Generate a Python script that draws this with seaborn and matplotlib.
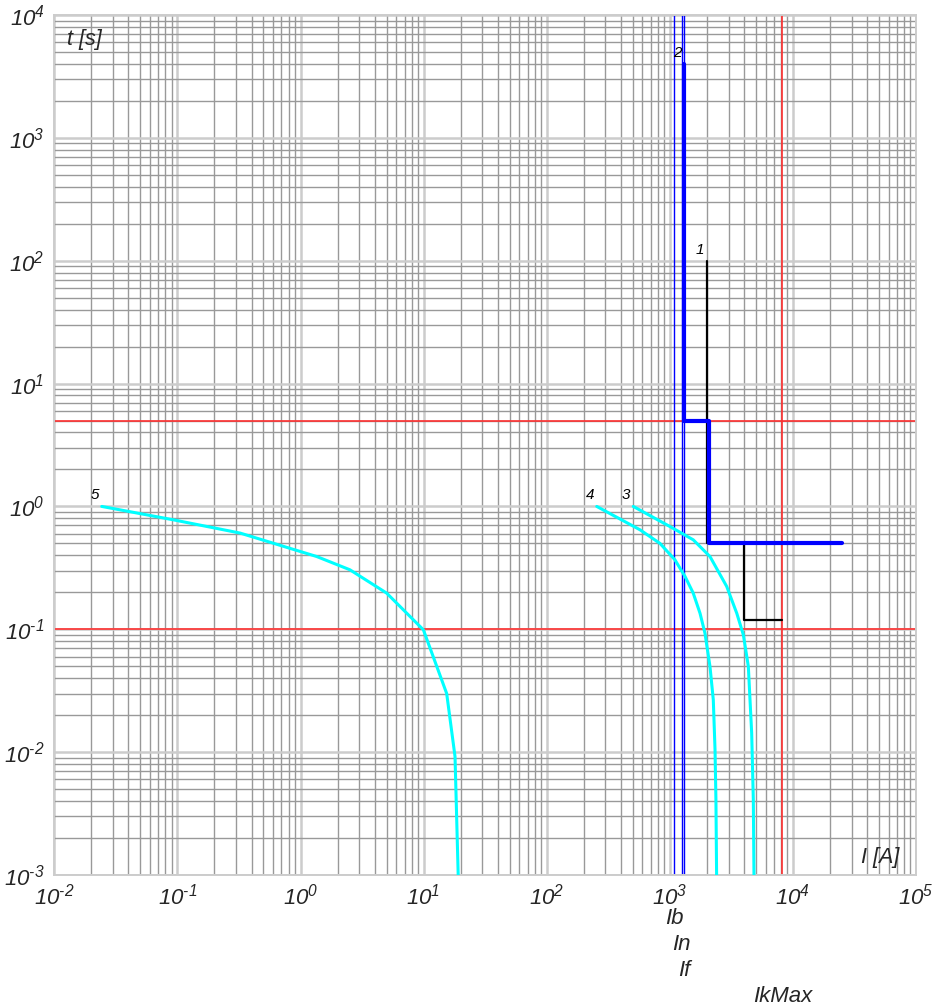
import numpy as np
import pandas as pd
import matplotlib
matplotlib.use("Agg")
import matplotlib.pyplot as plt
import matplotlib.ticker as mticker
import matplotlib.transforms as mtransforms
import seaborn as sns

# ---------------- data ----------------
# curve 1 (black step characteristic)
c1_I = [2000, 2000, 4000, 4000, 8200]
c1_t = [100, 0.5, 0.5, 0.12, 0.12]
# curve 2 (blue step characteristic)
c2_I = [1310, 1310, 2100, 2100, 25000]
c2_t = [4000, 5, 5, 0.5, 0.5]
# curve 3 (cyan)
c3_I = [505, 1000, 1550, 2120, 2900, 3500, 3960, 4345, 4625, 4770, 4830]
c3_t = [1.0, 0.687, 0.535, 0.391, 0.223, 0.135, 0.09, 0.0498, 0.0143, 0.0041, 0.001]
# curve 4 (cyan)
c4_I = [255, 573, 832, 1100, 1330, 1550, 1760, 1930, 2120, 2256, 2330, 2370, 2400]
c4_t = [1.0, 0.645, 0.50, 0.368, 0.269, 0.197, 0.135, 0.093, 0.0498, 0.0267, 0.0105, 0.0041, 0.001]
# curve 5 (cyan)
c5_I = [0.0243, 0.0927, 0.323, 1.355, 2.52, 5.01, 9.96, 15.4, 18.0, 19.1]
c5_t = [1.0, 0.778, 0.607, 0.391, 0.305, 0.197, 0.099, 0.030, 0.0092, 0.001]

curve_labels = ["1", "2", "3", "4", "5"]

# reference currents
current_names = ["Ib", "In", "If", "IkMax"]
current_values = [1090, 1250, 1310, 8200]
# reference times
time_marks = [5, 0.1]

x_ticks = [1e-2, 1e-1, 1e0, 1e1, 1e2, 1e3, 1e4, 1e5]
x_tick_labels = ["-2", "-1", "0", "1", "2", "3", "4", "5"]
y_ticks = [1e-3, 1e-2, 1e-1, 1e0, 1e1, 1e2, 1e3, 1e4]
y_tick_labels = ["-3", "-2", "-1", "0", "1", "2", "3", "4"]

# ---------------- style ----------------
sns.set_theme(style="white")
plt.rcParams["font.family"] = ["Liberation Sans", "DejaVu Sans"]
plt.rcParams["font.style"] = "italic"
plt.rcParams["mathtext.fontset"] = "custom"
plt.rcParams["mathtext.rm"] = "Liberation Sans:italic"
plt.rcParams["mathtext.it"] = "Liberation Sans:italic"
plt.rcParams["mathtext.default"] = "it"


def sup_label(e):
    # "10" with a small superscript exponent, hyphen as minus sign
    return r"$10^{\mathrm{" + e.replace("-", "\u2010") + "}}$"


fig = plt.figure(figsize=(9.39, 10.08), dpi=100)
ax = fig.add_axes([54.3 / 939, 133 / 1008, (916 - 54.3) / 939, (875 - 15) / 1008])
ax.set_xscale("log")
ax.set_yscale("log")
ax.set_xlim(1e-2, 1e5)
ax.set_ylim(1e-3, 1e4)

ax.xaxis.set_major_locator(mticker.FixedLocator(x_ticks))
ax.yaxis.set_major_locator(mticker.FixedLocator(y_ticks))
ax.xaxis.set_minor_locator(mticker.LogLocator(base=10, subs=np.arange(2, 10), numticks=50))
ax.yaxis.set_minor_locator(mticker.LogLocator(base=10, subs=np.arange(2, 10), numticks=50))
ax.xaxis.set_minor_formatter(mticker.NullFormatter())
ax.yaxis.set_minor_formatter(mticker.NullFormatter())
ax.set_xticklabels([sup_label(e) for e in x_tick_labels], fontsize=16)
ax.set_yticklabels([sup_label(e) for e in y_tick_labels], fontsize=16)
ax.tick_params(which="both", length=0)
ax.tick_params(axis="x", pad=6)
ax.tick_params(axis="y", pad=7)

ax.grid(which="major", color="#cccccc", lw=1.8)
ax.grid(which="minor", color="#999999", lw=1.0)
ax.set_axisbelow(True)
for s in ax.spines.values():
    s.set_color("#cccccc")
    s.set_linewidth(1.4)

# reference lines
for t in time_marks:
    ax.axhline(t, color="#ff3030", lw=1.2, zorder=2)
for name, val in zip(current_names, current_values):
    col = "#ff3030" if name == "IkMax" else "#0000ff"
    ax.axvline(val, color=col, lw=1.0 if name != "IkMax" else 1.2, zorder=2)

# curves
cyan = "#00ffff"
curves = [
    (c1_I, c1_t, "black", 1.6),
    (c2_I, c2_t, "#0000ff", 3.0),
    (c3_I, c3_t, cyan, 2.2),
    (c4_I, c4_t, cyan, 2.2),
    (c5_I, c5_t, cyan, 2.2),
]
for (I, t, col, lw), lab in zip(curves, curve_labels):
    df = pd.DataFrame({"I": I, "t": t})
    sns.lineplot(data=df, x="I", y="t", ax=ax, sort=False, estimator=None,
                 color=col, lw=lw, zorder=4)
    ax.annotate(lab, xy=(I[0], t[0]), xytext=(-2, 3), textcoords="offset points",
                ha="right", va="bottom", fontsize=11, style="italic", color="black")

ax.set_xlabel("")
ax.set_ylabel("")

# axis titles inside the plot
ax.text(0.0145, 0.984, "t [s]", transform=ax.transAxes,
        ha="left", va="top", fontsize=15.5, style="italic")
ax.text(0.9805, 0.008, "I [A]", transform=ax.transAxes,
        ha="right", va="bottom", fontsize=15.5, style="italic")

# current names below the x axis
trans = mtransforms.blended_transform_factory(ax.transData, fig.transFigure)
name_y = [1 - 918 / 1008, 1 - 944 / 1008, 1 - 970 / 1008, 1 - 997 / 1008]
for name, val, yy in zip(current_names, current_values, name_y):
    ax.text(val, yy, name, transform=trans, ha="center", va="center",
            fontsize=16, style="italic", clip_on=False)

fig.savefig("out.png", dpi=100)
